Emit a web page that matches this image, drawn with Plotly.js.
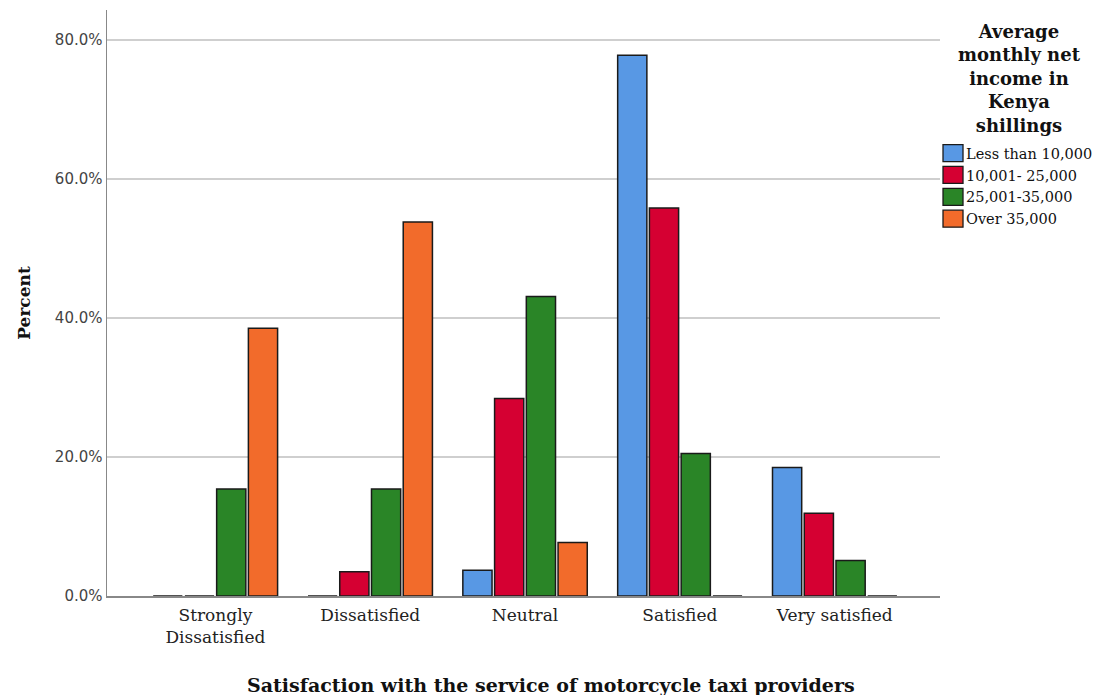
<!DOCTYPE html>
<html>
<head>
<meta charset="utf-8">
<script src="https://cdn.plot.ly/plotly-3.0.1.min.js"></script>
<style>html,body{margin:0;padding:0;background:#fff;}</style>
</head>
<body>
<div id="chart" style="width:1098px;height:695px;"></div>
<script>
const categories = ["Strongly<br>Dissatisfied", "Dissatisfied", "Neutral", "Satisfied", "Very satisfied"];
const seriesNames = ["Less than 10,000", "10,001- 25,000", "25,001-35,000", "Over 35,000"];
const lessThan10k = [0, 0, 3.7, 77.8, 18.5];
const from10kTo25k = [0, 3.5, 28.4, 55.8, 11.9];
const from25kTo35k = [15.4, 15.4, 43.1, 20.5, 5.1];
const over35k = [38.5, 53.8, 7.7, 0, 0];
const yTickVals = [0, 20, 40, 60, 80];
const yTickText = ["0.0%", "20.0%", "40.0%", "60.0%", "80.0%"];

const colors = ["#5898e4", "#d50032", "#2a8527", "#f26b2b"];
const values = [lessThan10k, from10kTo25k, from25kTo35k, over35k];

const serif = "DejaVu Serif, Liberation Serif, serif";
const traces = values.map((v, i) => ({
  type: "bar",
  name: seriesNames[i],
  x: categories,
  y: v,
  marker: {color: colors[i], line: {color: "#1a1a1a", width: 1.5}},
  hoverinfo: "none"
}));

const layout = {
  width: 1098, height: 695,
  margin: {l: 107, r: 158, t: 10, b: 99, autoexpand: false},
  paper_bgcolor: "#fff", plot_bgcolor: "#fff",
  barmode: "group",
  bargap: 0.18,
  bargroupgap: 0.08,
  font: {family: serif, color: "#222"},
  xaxis: {
    range: [-0.7, 4.68],
    showgrid: false,
    showline: true, linecolor: "#888", linewidth: 1.5,
    ticks: "",
    ticklabelstandoff: 3,
    tickfont: {family: serif, size: 17, color: "#222"},
    automargin: false
  },
  yaxis: {
    range: [0, 84.3],
    tickvals: yTickVals, ticktext: yTickText,
    showgrid: true, gridcolor: "#cfcfcf", gridwidth: 1.5,
    showline: true, linecolor: "#888", linewidth: 1.5,
    zeroline: false,
    ticks: "", ticklen: 0,
    tickfont: {family: "DejaVu Sans, Verdana, sans-serif", size: 15, color: "#444"},
    title: {text: "<b>Percent</b>", font: {family: serif, size: 17, color: "#111"}, standoff: 20},
    automargin: false
  },
  showlegend: true,
  legend: {
    x: 0.9832, xanchor: "left", y: 0.783, yanchor: "top",
    font: {family: serif, size: 14.5, color: "#111"},
    tracegroupgap: 0, itemwidth: 30,
    bgcolor: "rgba(0,0,0,0)"
  },
  annotations: [{
    xref: "paper", yref: "paper",
    x: 1.096, y: 0.985, xanchor: "center", yanchor: "top",
    text: "<b>Average<br>monthly net<br>income in<br>Kenya<br>shillings</b>",
    showarrow: false, align: "center",
    font: {family: serif, size: 18, color: "#111"}
  }, {
    xref: "paper", yref: "paper",
    x: 0.533, y: -0.152, xanchor: "center", yanchor: "middle",
    text: "<b>Satisfaction with the service of motorcycle taxi providers</b>",
    showarrow: false,
    font: {family: serif, size: 19, color: "#111"}
  }]
};

Plotly.newPlot("chart", traces, layout, {displayModeBar: false, staticPlot: true}).then(() => {
  document.querySelectorAll("#chart .legend .legendpoints path").forEach(p => {
    p.setAttribute("d", "M10,8.5H-10V-8.5H10Z");
    p.setAttribute("transform", "translate(27,0)");
    p.style.strokeWidth = "1.3px";
  });
});
</script>
</body>
</html>
